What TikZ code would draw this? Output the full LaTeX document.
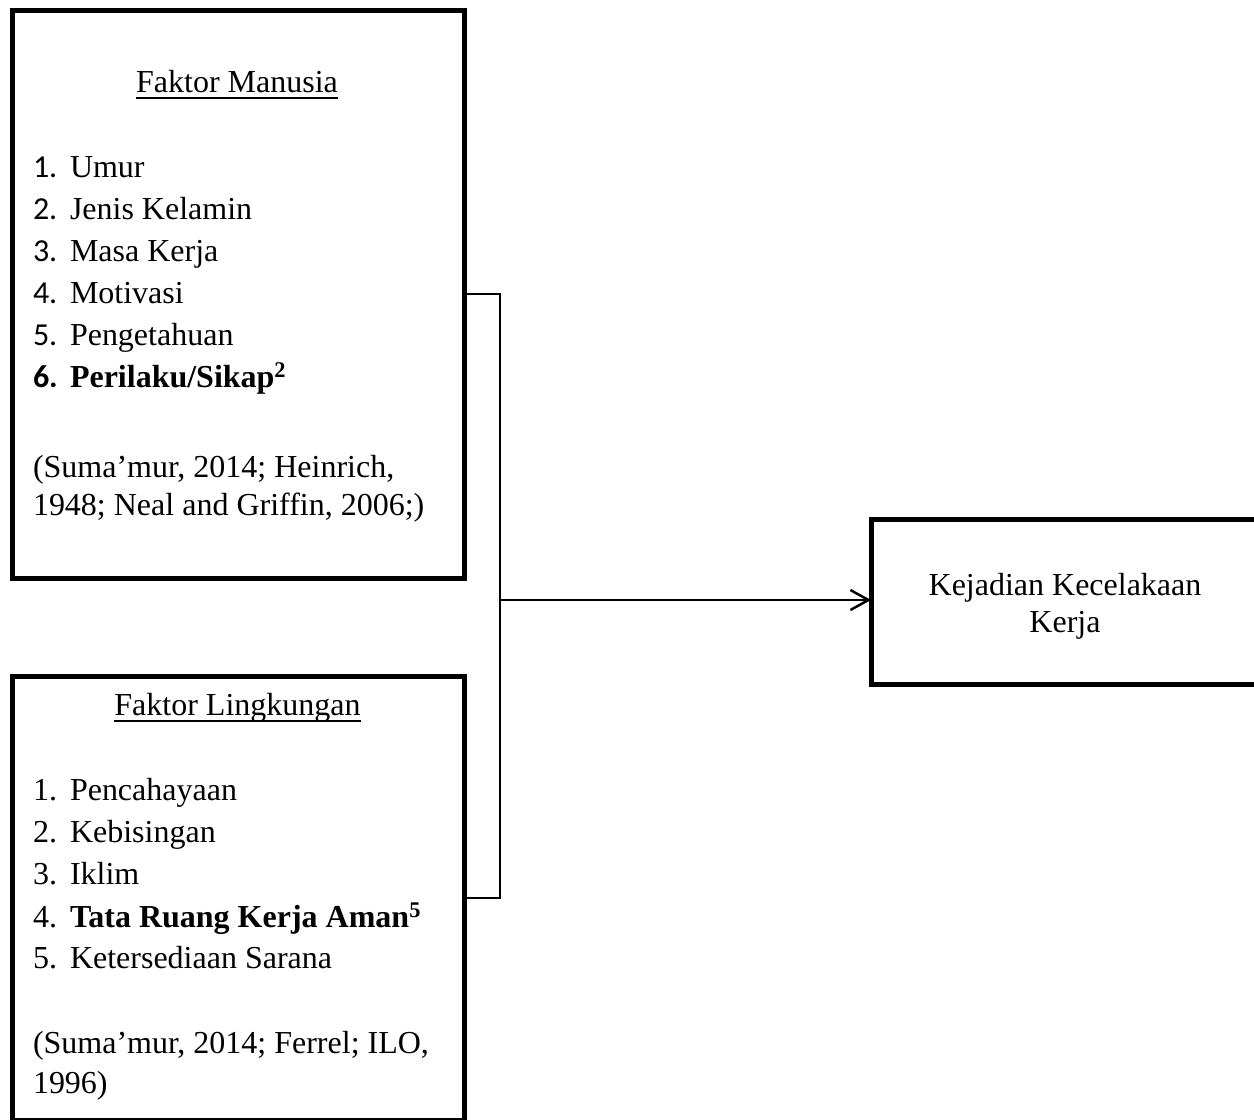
\documentclass[tikz,border=0pt]{standalone}
\usepackage{fontspec}
\setmainfont{Liberation Serif}
\newfontfamily\numfont{Carlito}
\usetikzlibrary{arrows.meta}
\newcommand{\wul}[1]{\setbox0\hbox{#1}\rlap{\rule[-7pt]{\wd0}{2pt}}\box0}
\begin{document}
\begin{tikzpicture}[x=1pt,y=-1pt,
  font=\fontsize{32}{42}\selectfont,
  box/.style={draw, line width=5pt, inner sep=0pt, outer sep=0pt, rectangle},
  txt/.style={anchor=base west, inner sep=0pt, outer sep=0pt},
  ttl/.style={anchor=base, inner sep=0pt, outer sep=0pt},
  conn/.style={line width=2.5pt}]
\useasboundingbox (0,0) rectangle (1254,1120);
\clip (0,0) rectangle (1254,1120);
% boxes
\node[box, minimum width=452pt, minimum height=568pt] (b1) at (238,294) {};
\node[box, minimum width=452pt, minimum height=444pt] (b2) at (238,898) {};
\node[box, minimum width=404pt, minimum height=165pt] (b3) at (1073,601.5) {};
% box 1 text
\node[ttl] (t1) at (237,92) {\wul{Faktor Manusia}};
\node[txt] (n11) at (33,177) {\numfont 1.};
\node[txt] (i11) at (70,177) {Umur};
\node[txt] (n12) at (33,219) {\numfont 2.};
\node[txt] (i12) at (70,219) {Jenis Kelamin};
\node[txt] (n13) at (33,261) {\numfont 3.};
\node[txt] (i13) at (70,261) {Masa Kerja};
\node[txt] (n14) at (33,303) {\numfont 4.};
\node[txt] (i14) at (70,303) {Motivasi};
\node[txt] (n15) at (33,345) {\numfont 5.};
\node[txt] (i15) at (70,345) {Pengetahuan};
\node[txt] (n16) at (33,387) {\numfont\bfseries 6.};
\node[txt] (i16) at (70,387) {\bfseries Perilaku/Sikap\textsuperscript{2}};
\node[txt] (c11) at (33,477) {(Suma’mur, 2014; Heinrich,};
\node[txt] (c12) at (33,515) {1948; Neal and Griffin, 2006;)};
% box 2 text
\node[ttl] (t2) at (237.5,715) {\wul{Faktor Lingkungan}};
\node[txt] (n21) at (33,800) {1.};
\node[txt] (i21) at (70,800) {Pencahayaan};
\node[txt] (n22) at (33,842) {2.};
\node[txt] (i22) at (70,842) {Kebisingan};
\node[txt] (n23) at (33,884) {3.};
\node[txt] (i23) at (70,884) {Iklim};
\node[txt] (n24) at (33,927) {4.};
\node[txt] (i24) at (70,927) {\bfseries Tata Ruang Kerja Aman\textsuperscript{5}};
\node[txt] (n25) at (33,968) {5.};
\node[txt] (i25) at (70,968) {Ketersediaan Sarana};
\node[txt] (c21) at (33,1053) {(Suma’mur, 2014; Ferrel; ILO,};
\node[txt] (c22) at (33,1093) {1996)};
% box 3 text
\node[ttl] (t31) at (1065,595) {Kejadian Kecelakaan};
\node[ttl] (t32) at (1065,632) {Kerja};
% connectors
\coordinate (j) at (500,600);
\draw[conn] (b1.east) -- (b1.east -| j) -- (b2.east -| j) -- (b2.east);
\draw[conn, -{Straight Barb[length=18pt,width=20pt]}] (j) -- (j -| b3.west);
\end{tikzpicture}
\end{document}
